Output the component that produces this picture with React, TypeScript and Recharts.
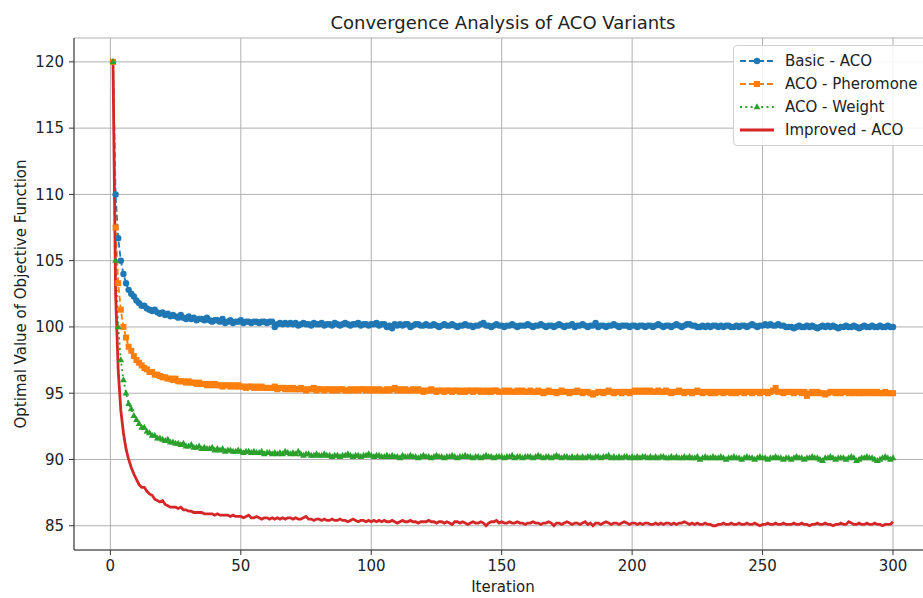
import { LineChart, Line, XAxis, YAxis, CartesianGrid, Legend } from 'recharts';

// values, iteration 1..300, 20 per row
const BASIC = [
  120, 110, 106.7, 105, 104, 103.3, 102.8, 102.5, 102.3, 102, 101.8, 101.6, 101.6, 101.4, 101.3, 101.2, 101.3, 101.1, 101, 101.1,
  100.9, 101, 100.8, 100.9, 100.8, 100.7, 100.9, 100.7, 100.6, 100.8, 100.6, 100.7, 100.5, 100.6, 100.6, 100.5, 100.7, 100.5, 100.4, 100.5,
  100.5, 100.4, 100.6, 100.3, 100.4, 100.5, 100.3, 100.4, 100.4, 100.5, 100.3, 100.4, 100.4, 100.3, 100.4, 100.4, 100.3, 100.4, 100.4, 100.3,
  100.4, 100.4, 100.0, 100.2, 100.3, 100.2, 100.3, 100.2, 100.3, 100.2, 100.3, 100.1, 100.2, 100.3, 100.2, 100.2, 100.1, 100.3, 100.2, 100.2,
  100.3, 100.1, 100.2, 100.2, 100.1, 100.3, 100.2, 100.1, 100.2, 100.3, 100.2, 100.1, 100.2, 100.2, 100.3, 100.1, 100.2, 100.2, 100.1, 100.2,
  100.2, 100.3, 100.1, 100.2, 100.2, 100.0, 100.1, 99.9, 100.2, 100.1, 100.2, 100.1, 100.2, 100.2, 100.0, 100.1, 100.2, 100.2, 100.1, 100.1,
  100.2, 100.1, 100.1, 100.2, 100.1, 100.0, 100.1, 100.2, 100.1, 100.1, 100.2, 100.1, 100.0, 100.1, 100.1, 100.2, 100.1, 100.1, 100.0, 100.1,
  100.1, 100.2, 100.3, 100.1, 100.1, 100.0, 100.1, 100.2, 100.1, 100.1, 100.0, 100.1, 100.1, 100.2, 100.1, 100.0, 100.1, 100.1, 100.1, 100.2,
  100.1, 100.0, 100.1, 100.1, 100.2, 100.1, 100.0, 100.1, 100.1, 100.0, 100.1, 100.2, 100.1, 100.0, 100.1, 100.1, 100.2, 100.0, 100.1, 100.1,
  100.2, 100.1, 100.0, 100.1, 100.1, 100.3, 100.0, 100.1, 100.1, 100.0, 100.1, 100.1, 100.2, 100.1, 100.0, 100.1, 100.1, 100.1, 100.0, 100.1,
  100.1, 100.0, 100.1, 100.1, 100.0, 100.1, 100.1, 100.0, 100.1, 100.2, 100.1, 100.0, 100.1, 100.1, 100.0, 100.1, 100.2, 100.1, 100.0, 100.1,
  100.2, 100.2, 100.1, 100.1, 100.0, 100.0, 100.1, 100.0, 100.1, 100.0, 100.1, 100.1, 100.0, 100.1, 100.0, 100.1, 100.1, 100.0, 100.0, 100.1,
  100.0, 100.1, 100.1, 100.0, 100.1, 100.2, 100.1, 100.0, 100.1, 100.1, 100.2, 100.1, 100.2, 100.1, 100.1, 100.2, 100.1, 100.1, 100.0, 100.0,
  100.0, 99.9, 100.0, 100.1, 100.0, 100.0, 100.1, 100.0, 100.1, 100.0, 99.9, 100.0, 100.1, 100.0, 100.1, 100.0, 100.1, 100.0, 99.9, 100.0,
  100.0, 100.1, 100.0, 100.0, 100.1, 100.0, 99.9, 100.0, 100.1, 100.0, 100.0, 100.1, 100.0, 100.0, 100.1, 100.0, 100.0, 100.1, 100.0, 100.0,
];

const PHEROMONE = [
  120, 107.5, 103.3, 101.3, 100, 99.2, 98.5, 98.2, 97.8, 97.5, 97.3, 97.1, 96.9, 96.8, 96.6, 96.6, 96.4, 96.4, 96.3, 96.2,
  96.2, 96.1, 96.1, 96.0, 96.1, 95.9, 95.9, 95.9, 95.8, 95.9, 95.8, 95.8, 95.7, 95.8, 95.7, 95.7, 95.6, 95.7, 95.6, 95.7,
  95.6, 95.6, 95.5, 95.6, 95.6, 95.5, 95.6, 95.5, 95.6, 95.5, 95.5, 95.4, 95.5, 95.5, 95.4, 95.5, 95.4, 95.5, 95.4, 95.4,
  95.4, 95.4, 95.5, 95.3, 95.4, 95.4, 95.3, 95.4, 95.3, 95.4, 95.3, 95.3, 95.4, 95.3, 95.2, 95.3, 95.3, 95.4, 95.2, 95.3,
  95.3, 95.2, 95.3, 95.3, 95.2, 95.3, 95.2, 95.3, 95.3, 95.2, 95.2, 95.3, 95.2, 95.3, 95.2, 95.3, 95.3, 95.2, 95.3, 95.2,
  95.3, 95.2, 95.3, 95.2, 95.2, 95.3, 95.2, 95.3, 95.4, 95.2, 95.3, 95.2, 95.3, 95.2, 95.2, 95.3, 95.2, 95.3, 95.2, 95.1,
  95.2, 95.2, 95.3, 95.2, 95.1, 95.2, 95.2, 95.1, 95.2, 95.2, 95.1, 95.2, 95.2, 95.1, 95.2, 95.1, 95.2, 95.2, 95.1, 95.2,
  95.2, 95.1, 95.2, 95.1, 95.2, 95.1, 95.2, 95.2, 95.1, 95.1, 95.2, 95.1, 95.2, 95.1, 95.1, 95.2, 95.1, 95.2, 95.1, 95.1,
  95.2, 95.1, 95.1, 95.2, 95.1, 95.0, 95.1, 95.2, 95.1, 95.1, 95.0, 95.1, 95.2, 95.1, 95.1, 95.0, 95.1, 95.1, 95.2, 95.1,
  95.0, 95.1, 95.1, 95.0, 94.9, 95.0, 95.1, 95.1, 95.0, 95.1, 95.2, 95.1, 95.0, 95.1, 95.1, 95.0, 95.1, 95.1, 95.0, 95.1,
  95.2, 95.1, 95.2, 95.1, 95.2, 95.1, 95.2, 95.1, 95.1, 95.2, 95.1, 95.1, 95.2, 95.1, 95.0, 95.1, 95.1, 95.2, 95.1, 95.0,
  95.1, 95.1, 95.0, 95.1, 95.2, 95.1, 95.0, 95.1, 95.1, 95.0, 95.1, 95.0, 95.1, 95.1, 95.0, 95.1, 95.1, 95.0, 95.1, 95.0,
  95.1, 95.1, 95.0, 95.1, 95.1, 95.0, 95.1, 95.1, 95.0, 95.1, 95.1, 95.0, 95.1, 95.2, 95.4, 95.1, 95.1, 95.0, 95.1, 95.1,
  95.1, 95.0, 95.1, 95.1, 95.0, 95.1, 94.8, 95.0, 95.1, 95.0, 95.1, 95.0, 95.0, 94.9, 95.0, 95.1, 95.1, 95.0, 95.1, 95.0,
  95.1, 95.1, 95.0, 95.1, 95.0, 95.1, 95.0, 95.1, 95.0, 95.1, 95.0, 95.1, 95.0, 95.1, 95.0, 95.0, 95.1, 95.0, 95.0, 95.0,
];

const WEIGHT = [
  120, 105, 100, 97.5, 96, 95, 94.2, 93.8, 93.3, 93, 92.7, 92.4, 92.4, 92.1, 92, 91.8, 91.8, 91.6, 91.6, 91.5,
  91.4, 91.5, 91.3, 91.3, 91.2, 91.2, 91.1, 91.2, 91.0, 91.0, 91.1, 90.9, 90.9, 91.0, 90.8, 90.9, 90.8, 90.8, 90.9, 90.7,
  90.8, 90.7, 90.8, 90.6, 90.7, 90.7, 90.6, 90.6, 90.7, 90.6, 90.5, 90.6, 90.6, 90.5, 90.6, 90.5, 90.5, 90.6, 90.4, 90.5,
  90.5, 90.4, 90.5, 90.4, 90.5, 90.4, 90.6, 90.5, 90.4, 90.5, 90.4, 90.6, 90.4, 90.3, 90.4, 90.4, 90.3, 90.3, 90.4, 90.3,
  90.3, 90.4, 90.3, 90.3, 90.2, 90.3, 90.3, 90.2, 90.3, 90.3, 90.4, 90.3, 90.2, 90.3, 90.3, 90.2, 90.3, 90.3, 90.4, 90.3,
  90.2, 90.3, 90.3, 90.2, 90.2, 90.3, 90.2, 90.3, 90.2, 90.2, 90.1, 90.3, 90.2, 90.2, 90.3, 90.2, 90.2, 90.1, 90.2, 90.3,
  90.2, 90.2, 90.1, 90.2, 90.3, 90.2, 90.2, 90.1, 90.2, 90.2, 90.3, 90.2, 90.1, 90.2, 90.2, 90.3, 90.2, 90.2, 90.1, 90.2,
  90.2, 90.1, 90.2, 90.3, 90.2, 90.2, 90.1, 90.2, 90.2, 90.2, 90.1, 90.2, 90.2, 90.3, 90.1, 90.2, 90.2, 90.1, 90.2, 90.2,
  90.2, 90.1, 90.2, 90.3, 90.2, 90.1, 90.2, 90.2, 90.1, 90.2, 90.3, 90.2, 90.1, 90.2, 90.2, 90.1, 90.2, 90.1, 90.2, 90.1,
  90.2, 90.1, 90.2, 90.2, 90.1, 90.2, 90.2, 90.1, 90.2, 90.2, 90.3, 90.1, 90.2, 90.1, 90.2, 90.1, 90.2, 90.2, 90.1, 90.2,
  90.1, 90.2, 90.1, 90.2, 90.2, 90.1, 90.2, 90.1, 90.2, 90.1, 90.2, 90.2, 90.1, 90.1, 90.2, 90.1, 90.2, 90.1, 90.1, 90.2,
  90.1, 90.2, 90.1, 90.1, 90.2, 90.0, 90.1, 90.2, 90.1, 90.1, 90.2, 90.1, 90.1, 90.2, 90.1, 90.0, 90.1, 90.1, 90.2, 90.1,
  90.1, 90.0, 90.1, 90.2, 90.1, 90.1, 90.0, 90.1, 90.2, 90.1, 90.1, 90.0, 90.1, 90.1, 90.2, 90.1, 90.1, 90.0, 90.1, 90.1,
  90.0, 90.1, 90.2, 90.1, 90.1, 90.0, 90.1, 90.1, 90.2, 90.1, 90.1, 90.0, 89.9, 90.1, 90.1, 90.2, 90.1, 90.0, 90.1, 90.1,
  90.1, 90.0, 90.1, 90.2, 90.1, 89.9, 90.0, 90.1, 90.1, 90.2, 90.1, 90.1, 90.0, 89.9, 90.0, 90.1, 90.2, 90.1, 90.0, 90.1,
];

const IMPROVED = [
  120, 102.5, 96.7, 93.7, 92, 90.8, 90, 89.4, 88.9, 88.5, 88.1, 87.9, 87.9, 87.6, 87.4, 87.3, 87.0, 86.9, 86.8, 86.9,
  86.6, 86.5, 86.4, 86.4, 86.4, 86.3, 86.4, 86.2, 86.2, 86.1, 86.1, 86.0, 86.0, 86.0, 86.0, 85.9, 85.9, 85.9, 85.9, 85.8,
  85.9, 85.8, 85.8, 85.8, 85.8, 85.7, 85.8, 85.7, 85.7, 85.7, 85.6, 85.7, 85.8, 85.6, 85.6, 85.7, 85.6, 85.5, 85.6, 85.6,
  85.5, 85.6, 85.5, 85.6, 85.5, 85.6, 85.5, 85.6, 85.6, 85.5, 85.6, 85.5, 85.5, 85.6, 85.7, 85.5, 85.5, 85.4, 85.5, 85.5,
  85.4, 85.5, 85.4, 85.4, 85.5, 85.4, 85.4, 85.5, 85.4, 85.4, 85.3, 85.4, 85.5, 85.4, 85.3, 85.4, 85.4, 85.3, 85.4, 85.3,
  85.4, 85.3, 85.4, 85.3, 85.4, 85.3, 85.3, 85.4, 85.3, 85.2, 85.3, 85.4, 85.3, 85.3, 85.4, 85.3, 85.3, 85.2, 85.3, 85.3,
  85.3, 85.4, 85.3, 85.3, 85.2, 85.3, 85.3, 85.2, 85.3, 85.2, 85.1, 85.3, 85.3, 85.2, 85.3, 85.2, 85.1, 85.2, 85.3, 85.2,
  85.2, 85.3, 85.2, 85.0, 85.2, 85.3, 85.3, 85.4, 85.2, 85.3, 85.2, 85.2, 85.3, 85.2, 85.2, 85.3, 85.2, 85.2, 85.1, 85.2,
  85.2, 85.3, 85.2, 85.2, 85.1, 85.2, 85.2, 85.3, 85.2, 85.0, 85.2, 85.2, 85.1, 85.2, 85.3, 85.2, 85.1, 85.2, 85.2, 85.1,
  85.2, 85.3, 85.1, 85.2, 85.0, 85.2, 85.2, 85.1, 85.2, 85.3, 85.2, 85.1, 85.2, 85.2, 85.1, 85.2, 85.3, 85.2, 85.1, 85.2,
  85.2, 85.1, 85.2, 85.1, 85.2, 85.2, 85.1, 85.1, 85.2, 85.1, 85.2, 85.1, 85.2, 85.2, 85.1, 85.2, 85.1, 85.2, 85.2, 85.3,
  85.2, 85.1, 85.2, 85.1, 85.2, 85.1, 85.1, 85.2, 85.1, 85.1, 85.0, 85.0, 85.1, 85.1, 85.2, 85.1, 85.1, 85.2, 85.1, 85.1,
  85.2, 85.1, 85.1, 85.2, 85.1, 85.1, 85.2, 85.1, 85.0, 85.1, 85.1, 85.2, 85.1, 85.1, 85.2, 85.1, 85.1, 85.2, 85.1, 85.1,
  85.1, 85.2, 85.1, 85.1, 85.2, 85.1, 85.1, 85.0, 85.1, 85.1, 85.2, 85.1, 85.1, 85.2, 85.1, 85.1, 85.0, 85.1, 85.1, 85.2,
  85.1, 85.1, 85.3, 85.2, 85.1, 85.1, 85.2, 85.1, 85.1, 85.2, 85.1, 85.1, 85.2, 85.1, 85.1, 85.0, 85.1, 85.1, 85.1, 85.3,
];

const SERIES_NAMES = ['Basic - ACO', 'ACO - Pheromone', 'ACO - Weight', 'Improved - ACO'];
const X_TICKS = [0, 50, 100, 150, 200, 250, 300];
const Y_TICKS = [85, 90, 95, 100, 105, 110, 115, 120];

const COLORS = ['#1f77b4', '#ff7f0e', '#2ca02c', '#d62728'];
const DASHES = ['6 3', '6 3', '2 3.3', undefined];
const FONT = '"DejaVu Sans", sans-serif';

const data = BASIC.map((v, i) => ({
  iter: i + 1,
  basic: v,
  pheromone: PHEROMONE[i],
  weight: WEIGHT[i],
  improved: IMPROVED[i],
}));

const Circle = ({ cx, cy, color }: any) => <circle cx={cx} cy={cy} r={3.2} fill={color} />;
const Square = ({ cx, cy, color }: any) => (
  <rect x={cx - 3} y={cy - 3} width={6} height={6} fill={color} />
);
const Triangle = ({ cx, cy, color }: any) => (
  <polygon
    points={`${cx},${cy - 3.8} ${cx - 3.4},${cy + 2.2} ${cx + 3.4},${cy + 2.2}`}
    fill={color}
  />
);
const MARKERS = [Circle, Square, Triangle, null];

const makeDot = (k: number) => (p: any) => {
  const M = MARKERS[k]!;
  if (p.cx == null || p.cy == null) return <g key={`n-${k}-${p.index}`} />;
  return <M key={`m-${k}-${p.index}`} cx={p.cx} cy={p.cy} color={COLORS[k]} />;
};

const LegendBox = () => (
  <div
    style={{
      border: '1px solid #d0d0d0',
      borderRadius: 4,
      background: 'rgba(255,255,255,0.85)',
      padding: '3px 0 4px 5px',
      fontFamily: FONT,
      fontSize: 15,
      color: '#222',
    }}
  >
    {SERIES_NAMES.map((name, k) => {
      const M = MARKERS[k];
      return (
        <div key={name} style={{ display: 'flex', alignItems: 'center', height: 23 }}>
          <svg width={36} height={12} style={{ marginRight: 10 }}>
            <line
              x1={1}
              x2={35}
              y1={6}
              y2={6}
              stroke={COLORS[k]}
              strokeWidth={k === 3 ? 2.8 : 1.8}
              strokeDasharray={DASHES[k]}
            />
            {M && <M cx={18} cy={6} color={COLORS[k]} />}
          </svg>
          <span style={{ whiteSpace: 'nowrap' }}>{name}</span>
        </div>
      );
    })}
  </div>
);

const YTitle = ({ viewBox }: any) => {
  const cx = 21;
  const cy = viewBox ? viewBox.y + viewBox.height / 2 : 294;
  return (
    <text
      x={cx}
      y={cy}
      transform={`rotate(-90, ${cx}, ${cy})`}
      textAnchor="middle"
      dominantBaseline="central"
      fontSize={15}
      fill="#222"
      fontFamily={FONT}
    >
      Optimal Value of Objective Function
    </text>
  );
};

export default function App() {
  const keys = ['basic', 'pheromone', 'weight', 'improved'];
  return (
    <div
      style={{
        width: 923,
        height: 598,
        overflow: 'hidden',
        position: 'relative',
        fontFamily: FONT,
        background: '#fff',
      }}
    >
      <style>{'body { margin: 0; }'}</style>
      <div
        style={{
          position: 'absolute',
          top: 12,
          left: 0,
          width: 1006,
          textAlign: 'center',
          fontSize: 18,
          color: '#222',
          zIndex: 1,
        }}
      >
        Convergence Analysis of ACO Variants
      </div>
      <LineChart
        width={940}
        height={598}
        data={data}
        margin={{ top: 38, right: 8, left: 0, bottom: 0 }}
        style={{ fontFamily: FONT }}
      >
        <CartesianGrid stroke="#b0b0b0" strokeWidth={1} />
        <XAxis
          dataKey="iter"
          type="number"
          domain={[-13.95, 314.95]}
          ticks={X_TICKS}
          allowDataOverflow
          height={48}
          stroke="#333"
          tick={{ fill: '#222', fontSize: 15 }}
          tickSize={5}
          tickMargin={5}
          label={{ value: 'Iteration', position: 'insideBottom', offset: 6, fill: '#222', fontSize: 15 }}
        />
        <XAxis
          xAxisId="top"
          orientation="top"
          type="number"
          domain={[-13.95, 314.95]}
          height={0}
          tick={false}
          tickLine={false}
          stroke="#333"
        />
        <YAxis
          type="number"
          domain={[83.17, 121.8]}
          ticks={Y_TICKS}
          allowDataOverflow
          width={74}
          stroke="#333"
          tick={{ fill: '#222', fontSize: 15 }}
          tickSize={5}
          tickMargin={5}
          label={<YTitle />}
        />
        {keys.map((key, k) => (
          <Line
            key={key}
            type="linear"
            dataKey={key}
            name={SERIES_NAMES[k]}
            stroke={COLORS[k]}
            strokeWidth={k === 3 ? 2.8 : 1.8}
            strokeDasharray={DASHES[k]}
            dot={k === 3 ? false : makeDot(k)}
            activeDot={false}
            isAnimationActive={false}
          />
        ))}
        <Legend
          layout="vertical"
          align="center"
          verticalAlign="middle"
          content={<LegendBox />}
          wrapperStyle={{ position: 'absolute', left: 733, top: 45, width: 200, height: 'auto' }}
        />
      </LineChart>
    </div>
  );
}
